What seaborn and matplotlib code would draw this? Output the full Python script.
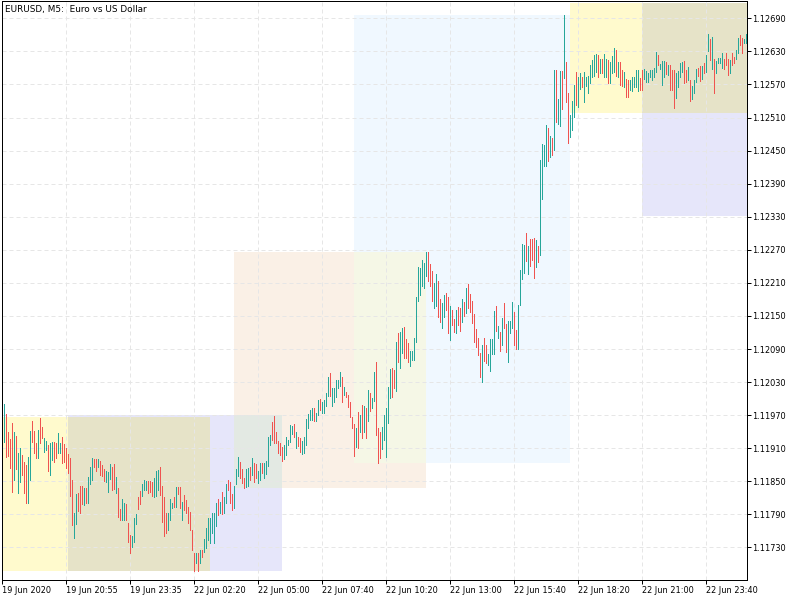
import numpy as np
import pandas as pd
import matplotlib
matplotlib.use("Agg")
import matplotlib.pyplot as plt
import seaborn as sns
from matplotlib.patches import Rectangle

title = "EURUSD, M5:  Euro vs US Dollar"

# bar slots: 19 Jun 18:15 .. 23:50, then Monday 22 Jun from 00:00 (5 min bars)
friday_slots = ("2020-06-19 18:15", "2020-06-19 23:50")
monday_open = "2020-06-22 00:00"

# candle highs / lows (first candle is 19 Jun 18:20)
highs = [
    1.11990, 1.11972, 1.11939, 1.11927, 1.11956, 1.11939, 1.11932, 1.11901, 1.11910, 1.11898,
    1.11885, 1.11880, 1.11894, 1.11941, 1.11959, 1.11941, 1.11919, 1.11943, 1.11965, 1.11948,
    1.11928, 1.11923, 1.11916, 1.11919, 1.11921, 1.11921, 1.11919, 1.11938, 1.11919, 1.11930,
    1.11918, 1.11910, 1.11899, 1.11892, 1.11852, 1.11792, 1.11827, 1.11829, 1.11841, 1.11841,
    1.11838, 1.11838, 1.11858, 1.11876, 1.11892, 1.11890, 1.11890, 1.11890, 1.11887, 1.11880,
    1.11872, 1.11869, 1.11867, 1.11881, 1.11876, 1.11881, 1.11858, 1.11838, 1.11800, 1.11818,
    1.11811, 1.11809, 1.11774, 1.11753, 1.11751, 1.11783, 1.11791, 1.11821, 1.11832, 1.11845,
    1.11852, 1.11850, 1.11850, 1.11850, 1.11849, 1.11856, 1.11869, 1.11870, 1.11876, 1.11841,
    1.11821, 1.11792, 1.11792, 1.11818, 1.11811, 1.11821, 1.11840, 1.11840, 1.11840, 1.11812,
    1.11825, 1.11816, 1.11803, 1.11794, 1.11762, 1.11720, 1.11720, 1.11720, 1.11725, 1.11725,
    1.11745, 1.11765, 1.11783, 1.11783, 1.11792, 1.11792, 1.11811, 1.11818, 1.11812, 1.11830,
    1.11821, 1.11845, 1.11852, 1.11849, 1.11827, 1.11841, 1.11872, 1.11894, 1.11885, 1.11872,
    1.11856, 1.11872, 1.11874, 1.11876, 1.11892, 1.11883, 1.11881, 1.11869, 1.11883, 1.11883,
    1.11883, 1.11887, 1.11930, 1.11934, 1.11957, 1.11968, 1.11939, 1.11923, 1.11919, 1.11912,
    1.11916, 1.11930, 1.11925, 1.11952, 1.11950, 1.11954, 1.11939, 1.11930, 1.11928, 1.11923,
    1.11930, 1.11963, 1.11972, 1.11979, 1.11983, 1.11983, 1.11974, 1.11997, 1.11999, 1.11994,
    1.11997, 1.12010, 1.12039, 1.12046, 1.12019, 1.12019, 1.12034, 1.12034, 1.12048, 1.12039,
    1.12021, 1.12012, 1.12007, 1.11994, 1.11967, 1.11954, 1.11947, 1.11976, 1.11970, 1.11988,
    1.11987, 1.11983, 1.12016, 1.12010, 1.12001, 1.12048, 1.12066, 1.11947, 1.11939, 1.11948,
    1.11970, 1.11983, 1.12021, 1.12054, 1.12055, 1.12052, 1.12103, 1.12119, 1.12121, 1.12128,
    1.12130, 1.12108, 1.12101, 1.12086, 1.12086, 1.12110, 1.12184, 1.12239, 1.12237, 1.12251,
    1.12246, 1.12266, 1.12266, 1.12244, 1.12231, 1.12210, 1.12226, 1.12213, 1.12181, 1.12173,
    1.12188, 1.12192, 1.12184, 1.12168, 1.12161, 1.12144, 1.12161, 1.12166, 1.12164, 1.12181,
    1.12175, 1.12201, 1.12208, 1.12190, 1.12177, 1.12153, 1.12126, 1.12110, 1.12083, 1.12097,
    1.12110, 1.12097, 1.12081, 1.12108, 1.12108, 1.12159, 1.12168, 1.12132, 1.12121, 1.12146,
    1.12173, 1.12135, 1.12141, 1.12141, 1.12175, 1.12157, 1.12124, 1.12170, 1.12233, 1.12281,
    1.12279, 1.12300, 1.12277, 1.12290, 1.12290, 1.12291, 1.12288, 1.12277, 1.12433, 1.12462,
    1.12460, 1.12496, 1.12491, 1.12476, 1.12473, 1.12596, 1.12596, 1.12544, 1.12594, 1.12594,
    1.12696, 1.12611, 1.12554, 1.12515, 1.12540, 1.12569, 1.12593, 1.12584, 1.12591, 1.12584,
    1.12593, 1.12584, 1.12585, 1.12605, 1.12614, 1.12623, 1.12625, 1.12623, 1.12616, 1.12616,
    1.12625, 1.12616, 1.12614, 1.12611, 1.12622, 1.12636, 1.12633, 1.12611, 1.12611, 1.12596,
    1.12593, 1.12580, 1.12578, 1.12578, 1.12584, 1.12584, 1.12596, 1.12596, 1.12582, 1.12596,
    1.12598, 1.12594, 1.12591, 1.12596, 1.12596, 1.12600, 1.12629, 1.12623, 1.12607, 1.12613,
    1.12613, 1.12611, 1.12605, 1.12605, 1.12596, 1.12596, 1.12591, 1.12594, 1.12609, 1.12611,
    1.12613, 1.12596, 1.12602, 1.12578, 1.12567, 1.12578, 1.12598, 1.12600, 1.12603, 1.12603,
    1.12609, 1.12623, 1.12662, 1.12652, 1.12656, 1.12616, 1.12613, 1.12618, 1.12618, 1.12627,
    1.12616, 1.12627, 1.12616, 1.12614, 1.12627, 1.12620, 1.12633, 1.12654, 1.12660, 1.12654,
    1.12652, 1.12662,
]
lows = [
    1.11921, 1.11894, 1.11896, 1.11874, 1.11830, 1.11852, 1.11872, 1.11829, 1.11849, 1.11861,
    1.11829, 1.11811, 1.11811, 1.11852, 1.11921, 1.11901, 1.11892, 1.11892, 1.11919, 1.11928,
    1.11903, 1.11907, 1.11869, 1.11861, 1.11889, 1.11885, 1.11892, 1.11901, 1.11901, 1.11883,
    1.11885, 1.11874, 1.11865, 1.11823, 1.11771, 1.11747, 1.11772, 1.11796, 1.11792, 1.11809,
    1.11807, 1.11811, 1.11811, 1.11845, 1.11852, 1.11876, 1.11869, 1.11876, 1.11861, 1.11860,
    1.11850, 1.11849, 1.11830, 1.11854, 1.11834, 1.11836, 1.11829, 1.11785, 1.11780, 1.11780,
    1.11780, 1.11780, 1.11740, 1.11720, 1.11731, 1.11740, 1.11772, 1.11800, 1.11809, 1.11823,
    1.11834, 1.11834, 1.11829, 1.11830, 1.11823, 1.11821, 1.11823, 1.11834, 1.11825, 1.11776,
    1.11751, 1.11756, 1.11762, 1.11780, 1.11801, 1.11803, 1.11803, 1.11827, 1.11801, 1.11780,
    1.11798, 1.11792, 1.11774, 1.11762, 1.11725, 1.11687, 1.11702, 1.11687, 1.11702, 1.11713,
    1.11722, 1.11729, 1.11743, 1.11738, 1.11756, 1.11738, 1.11769, 1.11789, 1.11792, 1.11791,
    1.11792, 1.11811, 1.11834, 1.11811, 1.11798, 1.11801, 1.11845, 1.11860, 1.11856, 1.11847,
    1.11838, 1.11840, 1.11841, 1.11852, 1.11861, 1.11849, 1.11856, 1.11847, 1.11852, 1.11865,
    1.11856, 1.11863, 1.11878, 1.11916, 1.11925, 1.11919, 1.11919, 1.11901, 1.11898, 1.11887,
    1.11890, 1.11898, 1.11916, 1.11921, 1.11936, 1.11930, 1.11910, 1.11914, 1.11903, 1.11899,
    1.11901, 1.11916, 1.11947, 1.11961, 1.11961, 1.11959, 1.11959, 1.11970, 1.11979, 1.11974,
    1.11974, 1.11987, 1.12005, 1.12005, 1.11987, 1.11994, 1.12003, 1.12019, 1.12023, 1.11994,
    1.12007, 1.12003, 1.11985, 1.11967, 1.11947, 1.11896, 1.11912, 1.11910, 1.11939, 1.11928,
    1.11939, 1.11928, 1.11959, 1.11977, 1.11983, 1.11996, 1.11934, 1.11883, 1.11892, 1.11909,
    1.11925, 1.11894, 1.11956, 1.12001, 1.12003, 1.12019, 1.12014, 1.12066, 1.12055, 1.12083,
    1.12074, 1.12074, 1.12066, 1.12059, 1.12070, 1.12070, 1.12103, 1.12177, 1.12188, 1.12204,
    1.12201, 1.12222, 1.12213, 1.12204, 1.12177, 1.12164, 1.12168, 1.12148, 1.12139, 1.12128,
    1.12148, 1.12161, 1.12119, 1.12106, 1.12133, 1.12121, 1.12119, 1.12133, 1.12123, 1.12139,
    1.12150, 1.12155, 1.12164, 1.12157, 1.12137, 1.12103, 1.12094, 1.12079, 1.12039, 1.12030,
    1.12068, 1.12065, 1.12061, 1.12050, 1.12081, 1.12081, 1.12123, 1.12110, 1.12086, 1.12097,
    1.12128, 1.12085, 1.12066, 1.12119, 1.12128, 1.12097, 1.12090, 1.12090, 1.12170, 1.12217,
    1.12228, 1.12250, 1.12226, 1.12241, 1.12252, 1.12219, 1.12239, 1.12248, 1.12261, 1.12362,
    1.12422, 1.12422, 1.12431, 1.12438, 1.12442, 1.12451, 1.12502, 1.12498, 1.12495, 1.12525,
    1.12582, 1.12538, 1.12464, 1.12475, 1.12487, 1.12511, 1.12533, 1.12529, 1.12562, 1.12565,
    1.12538, 1.12567, 1.12555, 1.12573, 1.12584, 1.12585, 1.12593, 1.12584, 1.12591, 1.12591,
    1.12584, 1.12584, 1.12573, 1.12573, 1.12591, 1.12593, 1.12585, 1.12584, 1.12569, 1.12567,
    1.12565, 1.12547, 1.12547, 1.12560, 1.12558, 1.12565, 1.12565, 1.12558, 1.12560, 1.12560,
    1.12580, 1.12574, 1.12574, 1.12584, 1.12578, 1.12584, 1.12593, 1.12605, 1.12598, 1.12569,
    1.12584, 1.12589, 1.12587, 1.12560, 1.12560, 1.12527, 1.12545, 1.12565, 1.12584, 1.12593,
    1.12573, 1.12574, 1.12578, 1.12540, 1.12544, 1.12555, 1.12574, 1.12585, 1.12576, 1.12580,
    1.12591, 1.12593, 1.12631, 1.12614, 1.12598, 1.12555, 1.12591, 1.12609, 1.12609, 1.12600,
    1.12598, 1.12605, 1.12587, 1.12591, 1.12605, 1.12609, 1.12616, 1.12627, 1.12642, 1.12627,
    1.12645, 1.12645,
]
# u = bullish candle, d = bearish candle
sides = (
    "udddduduud" "dduudddudd" "uuduudduud" "ddddduuddd" "uduuuddudd"
    "duuudduddu" "uddduuuddu" "uuddduuudd" "dduuududdu" "ddddddudud"
    "uuuuuuudud" "uuddduuudd" "duududduud" "uuuudddddd" "uuuuududdu"
    "uuuuuduudu" "uuuduuuuud" "udddddudud" "ududuudddu" "uuuudduduu"
    "ddduuuuuuu" "uuddduuddu" "uddudduddu" "dudddddddu" "dduuuududu"
    "dduuudduuu" "ududdduduu" "uudududuud" "udduuuduud" "uuuuuuudud"
    "uuduuududd" "udduuuuudd" "uuuuuuuduu" "ududdduuuu" "dduduuuddu"
    "duududuuuu" "dddudduudd" "uu"
)

price_ticks = [1.11730, 1.11790, 1.11850, 1.11910, 1.11970, 1.12030, 1.12090, 1.12150, 1.12210,
               1.12270, 1.12330, 1.12390, 1.12450, 1.12510, 1.12570, 1.12630, 1.12690]

# trading session boxes: start, end, high, low, colour
sess_start = ["2020-06-19 18:00", "2020-06-19 21:00", "2020-06-22 04:00",
              "2020-06-22 09:00", "2020-06-22 18:00", "2020-06-22 21:00"]
sess_end = ["2020-06-22 03:00", "2020-06-22 06:00", "2020-06-22 12:00",
            "2020-06-22 18:00", "2020-06-23 03:00", "2020-06-23 06:00"]
sess_high = [1.11966, 1.11970, 1.12266, 1.12696, 1.12718, 1.12718]
sess_low = [1.11687, 1.11687, 1.11838, 1.11883, 1.12518, 1.12332]
sess_color = ["#FFFACD", "#E6E6FA", "#FAF0E6", "#F0F8FF", "#FFFACD", "#E6E6FA"]

bull_col = "#26a69a"
bear_col = "#ef5350"

assert len(highs) == len(lows) == len(sides)
n = len(highs)

step = pd.Timedelta("5min")
times = pd.DatetimeIndex(list(pd.date_range(*friday_slots, freq="5min")))
times = times.append(pd.date_range(monday_open, periods=n + 1 - len(times), freq="5min"))


def slot_of(t):
    t = pd.Timestamp(t)
    if t <= times[0]:
        return (t - times[0]) / step
    if t >= times[-1]:
        return len(times) - 1 + (t - times[-1]) / step
    return float(times.searchsorted(t))


def xor_colour(a, b):
    return "#%06X" % (int(a[1:], 16) ^ int(b[1:], 16) ^ 0xFFFFFF)


bars = pd.DataFrame({
    "slot": np.arange(1, n + 1),
    "low": lows,
    "high": highs,
    "side": ["up" if c == "u" else "down" for c in sides],
})
long_df = bars.melt(id_vars=["slot", "side"], value_vars=["low", "high"], value_name="price")
long_df["bar"] = long_df["slot"]

sns.set_theme(style="white")
plt.rcParams["font.family"] = ["DejaVu Sans"]

fig = plt.figure(figsize=(8, 6), dpi=100)
ax = fig.add_axes([2 / 800, 20.5 / 600, 745 / 800, 578.5 / 600])

# session rectangles, overlaps drawn in xor colour like the terminal does
boxes = []
for s, e, hi, lo, c in zip(sess_start, sess_end, sess_high, sess_low, sess_color):
    x0, x1 = slot_of(s), slot_of(e)
    boxes.append((x0, x1, lo, hi, c))
    ax.add_patch(Rectangle((x0, lo), x1 - x0, hi - lo, facecolor=c, edgecolor="none", zorder=0))
for i in range(len(boxes)):
    for j in range(i + 1, len(boxes)):
        a, b = boxes[i], boxes[j]
        x0, x1 = max(a[0], b[0]), min(a[1], b[1])
        y0, y1 = max(a[2], b[2]), min(a[3], b[3])
        if x1 > x0 and y1 > y0:
            ax.add_patch(Rectangle((x0, y0), x1 - x0, y1 - y0,
                                   facecolor=xor_colour(a[4], b[4]), edgecolor="none", zorder=0.6))

sns.lineplot(data=long_df, x="slot", y="price", hue="side", units="bar", estimator=None,
             sort=False, palette={"up": bull_col, "down": bear_col}, linewidth=0.66,
             antialiased=False, legend=False, ax=ax, zorder=3)

ax.set_xlim(-0.15, n + 0.35)
ax.set_ylim(1.116718, 1.127214)
ax.set_xlabel("")
ax.set_ylabel("")

tick_slots = np.arange(0, len(times), 32)
tick_labels = [times[0].strftime("%d %b %Y")] + [times[s].strftime("%d %b %H:%M") for s in tick_slots[1:]]
ax.set_xticks(tick_slots)
ax.set_xticklabels(tick_labels)
for lab in ax.get_xticklabels():
    lab.set_horizontalalignment("left")
ax.set_yticks(price_ticks)
ax.set_yticklabels(["%.5f" % p for p in price_ticks])
ax.yaxis.tick_right()

ax.set_axisbelow("line")
ax.grid(True, color="#e6e6e6", linestyle=(0, (4, 3)), linewidth=0.72)

ax.tick_params(axis="y", direction="out", length=2.9, width=0.72, pad=1.0,
               labelsize=5.9, colors="black", left=False, right=True)
ax.tick_params(axis="x", direction="out", length=2.9, width=0.72, pad=1.5,
               labelsize=5.9, colors="black", bottom=True)
for sp in ax.spines.values():
    sp.set_visible(True)
    sp.set_color("black")
    sp.set_linewidth(0.72)

ax.text(3 / 745, 1 - 11 / 578.5, title, transform=ax.transAxes, fontsize=6.4,
        ha="left", va="baseline", color="black", zorder=5)

fig.savefig("out.png", dpi=100)
